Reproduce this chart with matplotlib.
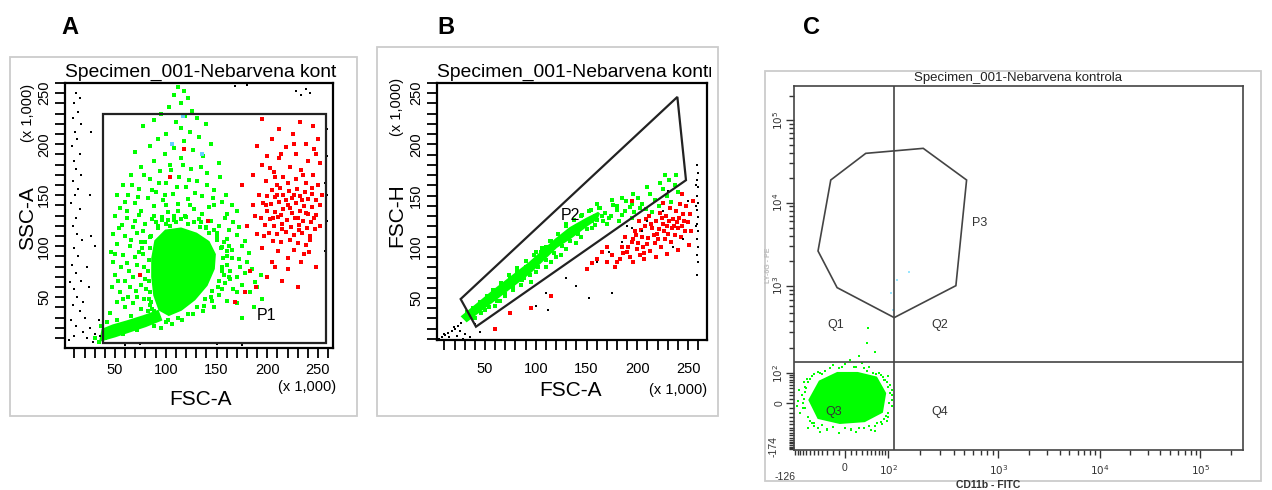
import numpy as np
import matplotlib.pyplot as plt
from matplotlib.patches import Polygon, Rectangle
from matplotlib.transforms import Bbox, TransformedBbox

plt.rcParams['font.family'] = ['Liberation Sans', 'DejaVu Sans']

# ---------------- data ----------------
title_text = 'Specimen_001-Nebarvena kontrola'
panel_letters = ['A', 'B', 'C']

# panel A : FSC-A vs SSC-A (x 1,000)
gate_p1 = [(38, 5), (258, 5), (258, 229.5), (38, 229.5)]
core_a = [(90, 105), (100, 115), (115, 117), (130, 112), (142, 104), (148, 92), (147, 78), (140, 62),
          (128, 48), (115, 38), (103, 33), (94, 38), (89, 52), (87, 70), (87, 88)]
band_a = [(36, 8), (50, 12), (65, 17), (80, 22), (95, 28), (92, 36), (78, 31), (62, 26), (48, 22), (38, 18)]
green_a = [(112, 256), (118, 252), (108, 248), (122, 245), (115, 240), (103, 236), (126, 233), (95, 230),
           (119, 228), (131, 226), (88, 224), (110, 222), (140, 220), (78, 218), (115, 216), (124, 212),
           (100, 210), (133, 207), (92, 205), (118, 203), (145, 200), (84, 198), (108, 196), (127, 194),
           (70, 192), (99, 190), (137, 188), (115, 186), (88, 184), (152, 182), (104, 180), (76, 178),
           (125, 176), (94, 174), (141, 172), (66, 170), (113, 168), (84, 166), (131, 164), (100, 162),
           (58, 160), (120, 158), (74, 156), (148, 155), (90, 153), (107, 151), (63, 150), (136, 149),
           (82, 147), (122, 146), (97, 145), (155, 143), (70, 142), (112, 141), (88, 139), (143, 138),
           (55, 137), (128, 136), (76, 135), (102, 134),
           (50, 130), (62, 128), (74, 131), (86, 127), (96, 129), (108, 126), (119, 130), (133, 127),
           (145, 125), (158, 128), (166, 124), (57, 121), (68, 119), (80, 122), (92, 118), (104, 120),
           (140, 118), (152, 120), (162, 116), (172, 119), (48, 112), (60, 110), (72, 113), (84, 109),
           (150, 110), (160, 107), (170, 111), (178, 105), (52, 102), (65, 100), (77, 98), (155, 99),
           (165, 96), (175, 100), (46, 94), (58, 91), (70, 89), (160, 90), (182, 93), (172, 87),
           (48, 85), (56, 80), (64, 76), (72, 82), (50, 72), (60, 66), (68, 70), (76, 62), (47, 60),
           (55, 55), (63, 50), (71, 56), (79, 48), (52, 45), (60, 40), (68, 44), (76, 38), (84, 42),
           (45, 35), (155, 80), (163, 76), (170, 70), (178, 74), (158, 64), (166, 58), (175, 62),
           (183, 55), (152, 52), (160, 46), (190, 60), (195, 48), (187, 40), (170, 44), (148, 40),
           (175, 30), (188, 65), (194, 72),
           (40, 18), (42, 26), (55, 20), (70, 26), (85, 30), (30, 10), (36, 22), (62, 22), (78, 28),
           (95, 20), (45, 14), (58, 14), (72, 18), (88, 22), (100, 26), (52, 28), (66, 32), (82, 36),
           (98, 38), (34, 6), (40, 10),
           (85, 110), (92, 120), (100, 122), (110, 124), (122, 122), (134, 119), (143, 113), (150, 106),
           (154, 98), (156, 88), (155, 76), (152, 66), (146, 56), (139, 48), (131, 40), (122, 34),
           (112, 30), (102, 28), (93, 30), (88, 36), (85, 45), (84, 55), (83, 66), (82, 76), (83, 86),
           (84, 98), (80, 104), (78, 92), (79, 80), (80, 68), (81, 58), (83, 48), (86, 38), (90, 30),
           (106, 24), (116, 28), (127, 34), (138, 41), (145, 50), (151, 60), (157, 72), (160, 82),
           (160, 95), (157, 104), (150, 113), (140, 119), (128, 124), (115, 127), (102, 126), (90, 124),
           (96, 126), (108, 130), (120, 129), (135, 124), (148, 116), (162, 100), (162, 70), (155, 58),
           (146, 46), (137, 36),
           (52, 150), (60, 143), (67, 160), (73, 148), (79, 170), (86, 155), (93, 162), (99, 150),
           (105, 175), (111, 158), (117, 180), (123, 165), (129, 152), (135, 178), (141, 160), (147, 147),
           (153, 168), (159, 150), (165, 140), (170, 135), (62, 135), (70, 125), (78, 115), (88, 130),
           (100, 140), (112, 135), (124, 140), (136, 132), (148, 140), (160, 132), (54, 118), (66, 106),
           (76, 104), (50, 92), (62, 84), (74, 94), (53, 66), (65, 60), (72, 50), (58, 48), (165, 88),
           (173, 80), (180, 85), (185, 78), (163, 68), (170, 55)]
red_a = [(195, 225), (232, 222), (245, 218), (212, 215), (225, 210), (250, 205), (205, 205), (238, 200),
         (190, 198), (218, 197), (246, 195), (228, 190), (200, 188), (212, 186), (240, 184), (252, 182),
         (195, 180), (222, 178), (233, 175), (207, 173), (186, 170), (245, 170), (216, 168), (228, 166),
         (199, 164), (238, 162), (250, 160), (210, 160),
         (205, 155), (213, 157), (221, 154), (229, 156), (237, 153), (244, 151), (200, 149), (208, 148),
         (216, 150), (224, 147), (232, 149), (240, 146), (248, 145), (196, 142), (204, 141), (212, 143),
         (220, 140), (228, 142), (236, 139), (244, 138), (252, 140), (200, 135), (208, 134), (216, 136),
         (224, 133), (232, 135), (240, 132), (248, 131), (194, 128), (203, 127), (211, 129), (219, 126),
         (227, 128), (235, 125), (243, 124), (198, 121), (207, 120), (215, 122), (223, 119), (231, 121),
         (239, 118), (247, 117), (202, 113), (210, 112), (218, 114), (226, 111), (234, 113), (242, 110),
         (190, 112), (206, 105), (214, 104), (222, 106), (230, 103), (238, 101), (195, 98), (226, 96),
         (211, 95), (241, 94), (220, 88), (233, 85), (205, 85), (248, 80),
         (183, 76), (189, 60), (178, 55), (168, 45), (200, 70), (215, 66), (230, 60), (186, 140),
         (180, 120), (175, 160), (118, 195), (104, 168), (75, 72), (142, 125),
         (210, 150), (218, 145), (226, 150), (234, 145), (214, 131), (222, 137), (230, 128), (238, 133),
         (206, 128), (246, 128), (215, 117), (231, 116), (199, 140), (244, 157), (208, 168), (220, 162),
         (235, 170), (203, 177), (248, 190), (226, 200), (214, 190), (192, 150), (188, 130), (197, 110),
         (252, 120), (254, 150), (236, 92), (220, 78), (208, 80), (242, 106)]
black_a = [(12, 250), (15, 245), (10, 240), (14, 232), (9, 226), (16, 220), (11, 212), (13, 205), (8, 198),
           (15, 190), (10, 184), (12, 176), (16, 170), (9, 164), (14, 156), (11, 150), (7, 142), (15, 136),
           (12, 128), (9, 120), (13, 112), (17, 106), (10, 98), (14, 90), (8, 82), (12, 74), (16, 66),
           (10, 58), (13, 50), (9, 42), (15, 36), (7, 28), (12, 22), (18, 16), (10, 12), (5, 8), (22, 10),
           (28, 6), (20, 30), (25, 20), (30, 14), (35, 12), (18, 45), (24, 60), (6, 65), (26, 110),
           (22, 80), (30, 100), (25, 150), (26, 212), (34, 28),
           (228, 252), (233, 248), (238, 254), (242, 250), (180, 258), (168, 257),
           (258, 230), (259, 215), (258, 200), (259, 188), (258, 175), (257, 162), (259, 150),
           (258, 140), (259, 125), (258, 110), (257, 95), (75, 4), (110, 5), (150, 4), (175, 3), (60, 3)]
blue_a = [(117, 228), (136, 190), (106, 200)]

# panel B : FSC-A vs FSC-H (x 1,000)
gate_p2 = [(26, 49), (239.5, 246.4), (248, 165.1), (41.1, 22)]
band_b = [(28, 32), (60, 58), (94, 84), (120, 107), (134, 118), (150, 127), (162, 133),
          (160, 128), (150, 121), (134, 109), (120, 100), (94, 75), (60, 49), (32, 28)]
green_b = [(152, 135), (158, 130), (163, 138), (168, 133), (172, 128), (176, 141), (180, 136), (185, 131),
           (189, 145), (193, 139), (197, 134), (201, 148), (205, 142), (209, 137), (213, 152), (217, 146),
           (221, 140), (225, 156), (229, 150), (233, 144), (237, 160), (240, 154), (231, 165), (222, 162),
           (210, 158), (196, 152), (185, 148), (175, 146), (238, 170), (227, 170), (170, 122), (182, 125),
           (195, 128), (160, 142), (215, 134),
           (70, 52), (85, 63), (100, 75), (115, 85), (130, 98), (140, 104), (95, 66), (110, 80), (125, 92),
           (60, 42), (78, 58), (145, 110), (135, 115), (105, 95), (82, 75), (50, 38), (40, 30), (155, 118),
           (120, 90), (65, 47), (75, 70), (100, 95), (115, 106), (130, 120), (155, 125), (145, 130),
           (140, 118), (160, 126), (165, 130), (110, 100), (90, 80), (88, 70), (70, 62), (55, 50),
           (32, 36), (38, 40), (45, 46), (52, 52), (58, 58), (66, 65), (74, 72), (82, 79), (90, 86),
           (98, 92), (106, 99), (114, 106), (122, 113), (130, 122), (138, 126), (146, 131), (154, 136),
           (162, 138), (38, 30), (46, 35), (54, 41), (62, 47), (70, 54), (78, 61), (86, 68), (94, 72),
           (102, 80), (110, 87), (118, 94), (126, 101), (134, 106), (142, 113), (150, 117), (158, 121),
           (166, 125), (174, 130), (180, 140), (188, 135), (195, 142), (203, 138)]
red_b = [(185, 100), (190, 95), (195, 105), (200, 98), (205, 110), (210, 103), (215, 118), (220, 108),
         (225, 122), (230, 113), (235, 127), (240, 118), (245, 132), (250, 124), (188, 110), (193, 90),
         (198, 115), (203, 92), (208, 120), (213, 96), (218, 125), (223, 100), (228, 130), (233, 105),
         (238, 135), (243, 110), (248, 140), (253, 115), (183, 88), (196, 85), (207, 88), (218, 90),
         (229, 93), (240, 97), (251, 102), (202, 125), (212, 130), (222, 133), (232, 138), (242, 142),
         (226, 115), (236, 120), (246, 125), (216, 112), (206, 100), (196, 108), (186, 94), (231, 125),
         (221, 117), (211, 109), (201, 104), (191, 100), (241, 128), (252, 132), (247, 115), (237, 112),
         (227, 108), (217, 104), (207, 94), (180, 85), (175, 92), (170, 100), (165, 95), (178, 80),
         (160, 88), (155, 84), (150, 78), (170, 85), (115, 52), (95, 40), (60, 20), (75, 35), (195, 145),
         (225, 143), (244, 152), (255, 145), (214, 122), (224, 128), (234, 118), (244, 120), (204, 116),
         (219, 113), (229, 120), (239, 124), (209, 127), (199, 112)]
black_b = [(5, 10), (8, 12), (11, 14), (14, 16), (17, 18), (20, 20), (23, 23), (26, 26), (10, 15), (15, 12),
           (19, 22), (12, 9), (25, 18), (30, 15), (35, 12), (22, 13), (7, 9), (40, 25), (45, 17), (28, 10),
           (100, 42), (110, 55), (130, 70), (140, 62), (152, 50), (175, 55), (112, 38), (160, 85),
           (172, 95), (185, 105), (195, 118), (210, 125), (225, 135), (235, 100), (245, 108), (250, 145),
           (230, 155), (205, 115), (190, 120),
           (259, 180), (260, 172), (259, 165), (260, 158), (259, 150), (260, 143), (259, 136), (260, 129),
           (259, 122), (260, 115), (259, 108), (260, 100), (259, 92), (260, 85), (259, 72), (258, 160),
           (258, 140), (258, 120)]

# panel C : CD11b - FITC vs LY-6G - PE (biexponential axes)
gate_p3 = [(-23.6, 18800), (37.9, 39500), (213.7, 45400), (523, 18800), (420, 1000),
           (114.6, 440), (-12.6, 951), (-49.3, 2617)]
quad_x, quad_y = 114.6, 136
core_c = [(-45, 62), (-12, 100), (22, 100), (62, 78), (88, 25), (78, -18), (35, -40), (-8, -45),
          (-48, -32), (-70, 8)]
green_c = [(-95, 20), (-90, -10), (-85, 45), (-70, 75), (-65, -45), (-40, 95), (-30, -70), (0, 130),
           (10, -65), (45, 120), (60, -55), (85, 70), (105, 50), (108, -5), (95, -40), (-100, -20),
           (-75, -60), (20, -75), (-50, 105), (70, 100), (-110, 5), (110, 20), (50, -70), (-20, 125),
           (30, 135), (-60, -55), (80, -50), (-88, 60), (98, 85), (-105, 35), (60, -72), (-10, -80),
           (100, -30), (-45, -75), (-115, -5), (43, 334), (41, 230), (59, 181), (8, 145), (25, 160),
           (-75, 60), (-65, 85), (-45, 100), (-25, 115), (-5, 120), (15, 120), (35, 115), (55, 100),
           (75, 90), (90, 70), (100, 45), (105, 25), (103, 0), (98, -20), (85, -35), (65, -45), (45, -55),
           (25, -60), (0, -60), (-20, -58), (-40, -52), (-60, -45), (-75, -30), (-85, -10), (-88, 10),
           (-85, 30), (-80, 40), (-92, 0), (-70, -40), (-50, -62), (-30, -65), (10, -68), (35, -62),
           (75, -42), (92, -28), (110, 8), (108, 35), (95, 60), (82, 80), (62, 96), (40, 108), (20, 118),
           (-10, 116), (-35, 108), (-60, 95), (-78, 72)]
blue_c = [(158, 1463), (121, 1171), (107, 822), (111, 536)]
quad_labels = ['Q1', 'Q2', 'Q3', 'Q4', 'P3']
quad_label_pos = [(-14.9, 363), (302, 363), (-17.9, -18), (302, -18), (679, 5635)]

# ---------------- figure ----------------
W, H = 1272, 490
fig = plt.figure(figsize=(W / 100, H / 100), dpi=100)
LIME, RED = '#00ff00', '#ff0000'


def box(l, t, r, b):
    return [l / W, 1 - b / H, (r - l) / W, (b - t) / H]


for l, t, r, b in [(10, 57, 357, 416), (377, 47, 718, 416), (765, 71, 1261, 481)]:
    fig.add_artist(Rectangle((l / W, 1 - b / H), (r - l) / W, (b - t) / H, transform=fig.transFigure,
                             fill=False, ec='#cccccc', lw=1.3))

for letter, (x, y) in zip(panel_letters, [(70, 27), (446, 27), (812, 27)]):
    fig.text(x / W, 1 - y / H, letter, fontsize=17, fontweight='bold', ha='center', va='center',
             family=['Liberation Sans Narrow', 'Liberation Sans', 'DejaVu Sans'])


def dots(ax, pts, color, s=5, z=2):
    p = np.array(pts)
    ax.scatter(p[:, 0], p[:, 1], s=s, c=color, marker='s', linewidths=0, zorder=z)


def blob(ax, pts, color):
    ax.add_patch(Polygon(pts, closed=True, fc=color, ec=color, lw=2, zorder=2))


def cyto_axes(ax, xlim, ylim, ylab, ylab_pos, xlab_pos, yscale_pos, xscale_pos, xpad):
    ax.set_xlim(*xlim)
    ax.set_ylim(*ylim)
    ax.set_xticks([50, 100, 150, 200, 250])
    ax.set_yticks([50, 100, 150, 200, 250])
    ax.set_xticks(np.arange(10, 261, 10), minor=True)
    ax.set_yticks(np.arange(10, 261, 10), minor=True)
    ax.tick_params(which='both', direction='out', length=7, width=1.3, labelsize=10.5)
    ax.tick_params(axis='x', pad=xpad)
    ax.tick_params(axis='y', labelrotation=90, pad=3)
    for lab in ax.get_yticklabels():
        lab.set_va('center')
    for sp in ax.spines.values():
        sp.set_linewidth(1.6)
    ax.text(*xlab_pos, 'FSC-A', transform=ax.transAxes, fontsize=15, ha='center', va='center')
    ax.text(*xscale_pos, '(x 1,000)', transform=ax.transAxes, fontsize=10.5, ha='right', va='center')
    ax.text(*ylab_pos, ylab, transform=ax.transAxes, fontsize=15, ha='center', va='center', rotation=90)
    ax.text(*yscale_pos, '(x 1,000)', transform=ax.transAxes, fontsize=10.5, ha='center', va='center',
            rotation=90)
    t = ax.text(0, 1.008, title_text, transform=ax.transAxes, fontsize=13.9, ha='left', va='bottom')
    t.set_clip_box(TransformedBbox(Bbox([[-0.1, 1.0], [1.015, 1.3]]), ax.transAxes))
    t.set_clip_on(True)


# ---- A
axA = fig.add_axes(box(65, 83, 333, 348))
blob(axA, core_a, LIME)
blob(axA, band_a, LIME)
dots(axA, green_a, LIME)
dots(axA, red_a, RED)
dots(axA, black_a, 'black', s=3.5)
dots(axA, blue_a, '#66ccff')
axA.add_patch(Polygon(gate_p1, closed=True, fill=False, ec='#222222', lw=1.6, zorder=3))
axA.text(199, 32, 'P1', fontsize=11.5, ha='center', va='center', zorder=4)
cyto_axes(axA, (0.7, 264.8), (0.2, 258.8), 'SSC-A', (-0.138, 0.49), (0.504, -0.196),
          (-0.138, 0.887), (1.01, -0.147), 3.5)

# ---- B
axB = fig.add_axes(box(437, 83, 707, 340))
blob(axB, band_b, LIME)
dots(axB, green_b, LIME)
dots(axB, red_b, RED)
dots(axB, black_b, 'black', s=3.5)
axB.add_patch(Polygon(gate_p2, closed=True, fill=False, ec='#222222', lw=1.6, zorder=3))
axB.text(133.7, 131, 'P2', fontsize=11.5, ha='center', va='center', zorder=4)
cyto_axes(axB, (2.7, 268.7), (9, 260), 'FSC-H', (-0.148, 0.486), (0.493, -0.195),
          (-0.148, 0.907), (1.0, -0.195), 9)


# ---- C  (biexponential-like axes)
def make_scale(vals, pos):
    t = np.arcsinh(np.asarray(vals, float) / 50)
    p = np.asarray(pos, float)
    k0 = (p[1] - p[0]) / (t[1] - t[0])
    k1 = (p[-1] - p[-2]) / (t[-1] - t[-2])
    t = np.r_[t[0] - 40, t, t[-1] + 40]
    p = np.r_[p[0] - 40 * k0, p, p[-1] + 40 * k1]

    def fwd(v):
        return np.interp(np.arcsinh(np.asarray(v, float) / 50), t, p)

    def inv(q):
        return 50 * np.sinh(np.interp(np.asarray(q, float), p, t))
    return fwd, inv


axC = fig.add_axes(box(794, 86, 1243, 450))
axC.set_xscale('function', functions=make_scale([-126, 0, 100, 1e3, 1e4, 1e5, 262144],
                                                [103, 255, 385, 715, 1020, 1320, 1448]))
axC.set_yscale('function', functions=make_scale([-174, 0, 100, 1e3, 1e4, 1e5, 262144],
                                                [0, 140, 230, 493, 742, 990, 1092]))
axC.set_xlim(-126, 262144)
axC.set_ylim(-174, 262144)

blob(axC, core_c, LIME)
dots(axC, green_c, LIME, s=3.5)
dots(axC, blue_c, '#99e6ff', s=3)
axC.add_patch(Polygon(gate_p3, closed=True, fill=False, ec='#444444', lw=1.2, zorder=3))
axC.axvline(quad_x, color='#444444', lw=1.2, zorder=3)
axC.axhline(quad_y, color='#444444', lw=1.2, zorder=3)
for lab, (x, y) in zip(quad_labels, quad_label_pos):
    axC.text(x, y, lab, fontsize=9, ha='center', va='center', color='#333333', zorder=4)

dec = [1e3, 1e4, 1e5]
axC.set_xticks([0, 100] + dec)
axC.set_xticklabels(['0', '$10^2$', '$10^3$', '$10^4$', '$10^5$'])
x_minor = list(np.arange(-120, 0, 10)) + list(np.arange(10, 100, 10)) + \
    [m * d for d in [100, 1e3, 1e4] for m in range(2, 10)] + [2e5]
axC.set_xticks(x_minor, minor=True)
axC.set_yticks([0, 100] + dec)
axC.set_yticklabels(['0', '$10^2$', '$10^3$', '$10^4$', '$10^5$'])
y_minor = list(np.arange(-170, 0, 10)) + list(np.arange(10, 100, 10)) + \
    [m * d for d in [100, 1e3, 1e4] for m in range(2, 10)] + [2e5]
axC.set_yticks(y_minor, minor=True)
axC.tick_params(which='major', direction='out', length=6, width=1.0, labelsize=7.5, colors='#333333')
axC.tick_params(which='minor', direction='out', length=3.5, width=1.0, colors='#333333')
axC.tick_params(axis='y', labelrotation=90, pad=0.5)
for lab in axC.get_yticklabels():
    lab.set_va('center')
for sp in axC.spines.values():
    sp.set_linewidth(1.2)
    sp.set_color('#444444')
axC.text(-0.02, -0.075, '-126', transform=axC.transAxes, fontsize=7.5, ha='center', va='center',
         color='#333333')
axC.text(-0.045, 0.01, '-174', transform=axC.transAxes, fontsize=7.5, ha='center', va='center',
         rotation=90, color='#333333')
axC.text(0.5, 1.005, title_text, transform=axC.transAxes, fontsize=9.5, ha='center', va='bottom',
         color='#222222')
fig.text(988 / W, 1 - 485 / H, 'CD11b - FITC', fontsize=7.5, fontweight='bold', ha='center',
         va='center', color='#333333')
fig.text(768 / W, 1 - 265 / H, 'LY-6G - PE', fontsize=5, fontweight='bold', ha='center',
         va='center', rotation=90, color='#bbbbbb')

fig.savefig('out.png', dpi=100)
